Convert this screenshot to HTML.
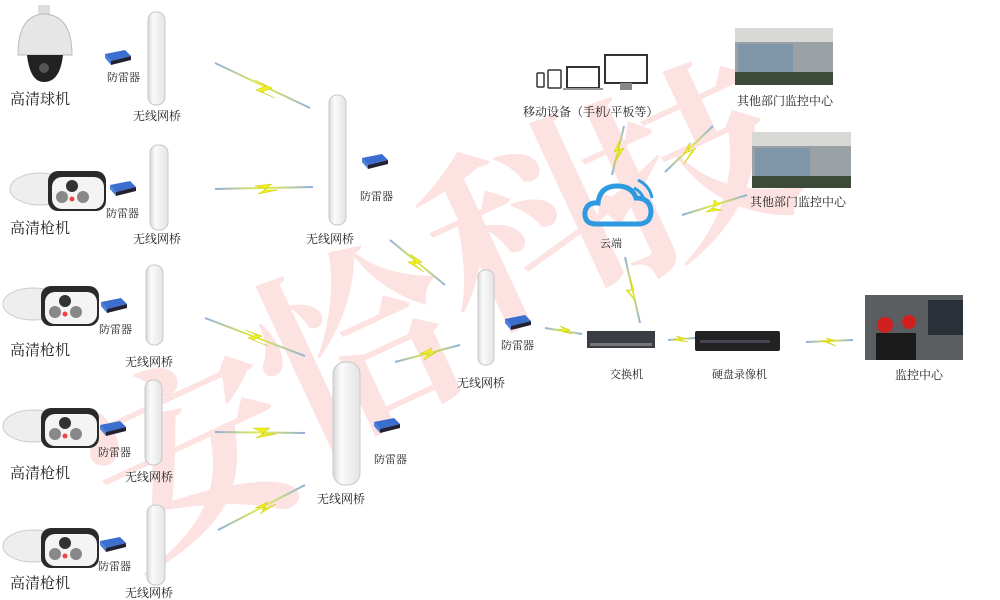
<!DOCTYPE html>
<html><head><meta charset="utf-8"><style>
html,body{margin:0;padding:0;background:#fff}
svg{display:block}
text{font-family:"Liberation Serif","Noto Serif CJK SC",serif;fill:#222}
.s{font-size:11px}.m{font-size:12px}.l{font-size:15px}
text.wm{font-family:"Noto Serif CJK SC","WenQuanYi Zen Hei",serif;font-size:200px;fill:#fde2e2;font-weight:bold}
</style></head><body>
<svg width="1000" height="600" viewBox="0 0 1000 600" xmlns="http://www.w3.org/2000/svg">
<defs>
<linearGradient id="br" x1="0" x2="1"><stop offset="0" stop-color="#d8d8d8"/><stop offset=".3" stop-color="#fafafa"/><stop offset="1" stop-color="#e4e4e4"/></linearGradient>
<linearGradient id="ln" x1="0" x2="1"><stop offset="0" stop-color="#8fb0e0"/><stop offset=".5" stop-color="#e8f040"/><stop offset="1" stop-color="#8fb0e0"/></linearGradient>
<g id="sp"><polygon points="0,4 20,0 26,6 6,11" fill="#3a6fd0"/><polygon points="6,11 26,6 26,10 6,15" fill="#223"/><polygon points="0,4 6,11 6,15 0,8" fill="#4a80d8"/></g>
<g id="bul"><ellipse cx="30" cy="22" rx="30" ry="16" fill="#eee" stroke="#ccc"/><rect x="38" y="4" width="58" height="40" rx="10" fill="#2a2a2a"/><rect x="42" y="10" width="52" height="32" rx="10" fill="#f4f4f4"/><circle cx="62" cy="19" r="6" fill="#333"/><circle cx="52" cy="30" r="6" fill="#888"/><circle cx="73" cy="30" r="6" fill="#888"/><circle cx="62" cy="32" r="2.5" fill="#e44"/></g>
</defs>

<text class="wm" x="80" y="530" transform="rotate(-25 180 430)">安</text>
<text class="wm" x="250" y="420" transform="rotate(-25 350 330)">恰</text>
<text class="wm" x="420" y="300" transform="rotate(-25 520 210)">科</text>
<text class="wm" x="580" y="240" transform="rotate(-25 680 150)">技</text>

<g stroke="url(#ln)" stroke-width="2" fill="none">
<line x1="215" y1="63" x2="310" y2="108"/><line x1="215" y1="189" x2="313" y2="187"/>
<line x1="390" y1="240" x2="445" y2="285"/><line x1="205" y1="318" x2="305" y2="356"/>
<line x1="215" y1="432" x2="305" y2="433"/><line x1="218" y1="530" x2="305" y2="485"/>
<line x1="395" y1="362" x2="460" y2="345"/><line x1="545" y1="328" x2="582" y2="334"/>
<line x1="668" y1="340" x2="695" y2="338"/><line x1="806" y1="342" x2="853" y2="340"/>
<line x1="624" y1="126" x2="612" y2="175"/><line x1="625" y1="257" x2="640" y2="323"/>
<line x1="713" y1="126" x2="665" y2="172"/><line x1="747" y1="195" x2="682" y2="215"/>
</g>
<g fill="#f0f020" stroke="#c8c800" stroke-width=".5">
<polygon points="255,80 272,88 262,92 275,98 256,90 266,86"/>
<polygon points="255,186 272,184 264,190 278,190 258,194 266,189"/>
<polygon points="410,254 422,262 414,264 424,272 408,262 416,261"/>
<polygon points="245,330 262,336 253,340 268,346 248,338 257,335"/>
<polygon points="253,428 270,428 262,434 276,434 256,438 264,433"/>
<polygon points="255,508 268,502 262,510 276,504 260,514 266,507"/>
<polygon points="420,354 432,348 428,356 440,350 424,360 428,353"/>
<polygon points="620,140 614,152 620,150 614,164 624,148 618,150"/>
<polygon points="630,278 634,290 628,290 636,302 626,290 632,290"/>
<polygon points="690,142 684,154 692,150 684,164 696,148 688,152"/>
<polygon points="714,200 720,204 712,208 722,210 706,212 714,207"/>
<polygon points="560,326 570,330 564,332 572,334 558,330 564,329"/>
<polygon points="676,336 684,338 680,340 688,342 674,340 680,338"/>
<polygon points="826,338 834,340 828,342 836,346 822,341 830,341"/>
</g>

<g fill="url(#br)" stroke="#c8c8c8" stroke-width="1">
<rect x="148" y="12" width="17" height="93" rx="8"/>
<rect x="150" y="145" width="18" height="85" rx="8"/>
<rect x="329" y="95" width="17" height="130" rx="8"/>
<rect x="146" y="265" width="17" height="80" rx="8"/>
<rect x="145" y="380" width="17" height="85" rx="8"/>
<rect x="147" y="505" width="18" height="80" rx="8"/>
<rect x="333" y="362" width="27" height="123" rx="12"/>
<rect x="478" y="270" width="16" height="95" rx="7"/>
</g>

<use href="#sp" x="105" y="50"/><use href="#sp" x="110" y="181"/><use href="#sp" x="362" y="154"/>
<use href="#sp" x="101" y="298"/><use href="#sp" x="100" y="421"/><use href="#sp" x="100" y="537"/>
<use href="#sp" x="374" y="418"/><use href="#sp" x="505" y="315"/>

<rect x="38" y="5" width="12" height="10" fill="#ddd"/>
<path d="M18 55 Q18 15 44 14 Q72 15 72 55 Z" fill="#e6e6e6" stroke="#bbb"/>
<path d="M27 55 Q30 82 44 82 Q60 82 63 55 Z" fill="#222"/>
<circle cx="44" cy="68" r="5" fill="#555"/>
<use href="#bul" x="10" y="167"/><use href="#bul" x="3" y="282"/><use href="#bul" x="3" y="404"/><use href="#bul" x="3" y="524"/>

<rect x="537" y="73" width="7" height="14" rx="1" fill="#fff" stroke="#333" stroke-width="1.5"/>
<rect x="548" y="70" width="13" height="18" rx="1" fill="#fff" stroke="#333" stroke-width="1.5"/>
<rect x="567" y="67" width="32" height="21" fill="#fff" stroke="#333" stroke-width="2"/><rect x="563" y="88" width="40" height="2" fill="#999"/>
<rect x="605" y="55" width="42" height="28" fill="#fff" stroke="#333" stroke-width="2"/><rect x="620" y="83" width="12" height="7" fill="#888"/>

<g><rect x="735" y="28" width="98" height="57" fill="#9aa2a8"/><rect x="735" y="28" width="98" height="14" fill="#d8d8d6"/><rect x="738" y="44" width="55" height="28" fill="#7f97a8"/><rect x="735" y="72" width="98" height="13" fill="#3c4a38"/></g>
<g><rect x="752" y="132" width="99" height="56" fill="#9aa2a8"/><rect x="752" y="132" width="99" height="14" fill="#d8d8d6"/><rect x="755" y="148" width="55" height="28" fill="#7f97a8"/><rect x="752" y="176" width="99" height="12" fill="#3c4a38"/></g>
<g><rect x="865" y="295" width="98" height="65" fill="#5a5e60"/><rect x="928" y="300" width="35" height="35" fill="#2a3038"/><circle cx="885" cy="325" r="8" fill="#d02020"/><circle cx="909" cy="322" r="7" fill="#d02020"/><rect x="876" y="333" width="40" height="27" fill="#1a1a1a"/></g>

<path d="M596 224 Q584 224 585 212 Q587 202 598 203 Q600 186 617 186 Q632 186 636 198 Q650 198 651 211 Q651 224 638 224 Z" fill="none" stroke="#2e9be0" stroke-width="5"/>
<path d="M634 188 Q642 192 644 200 M638 180 Q650 186 652 198" stroke="#2e9be0" stroke-width="3" fill="none"/>

<rect x="587" y="331" width="68" height="17" fill="#3a3d44"/><rect x="590" y="343" width="62" height="3" fill="#777"/>
<rect x="695" y="331" width="85" height="20" rx="2" fill="#222"/><rect x="700" y="340" width="70" height="3" fill="#445"/>

<text x="10" y="104" class="l">高清球机</text>
<text x="10" y="233" class="l">高清枪机</text>
<text x="10" y="355" class="l">高清枪机</text>
<text x="10" y="478" class="l">高清枪机</text>
<text x="10" y="588" class="l">高清枪机</text>
<text x="133" y="120" class="m">无线网桥</text>
<text x="133" y="243" class="m">无线网桥</text>
<text x="306" y="243" class="m">无线网桥</text>
<text x="125" y="366" class="m">无线网桥</text>
<text x="125" y="481" class="m">无线网桥</text>
<text x="125" y="597" class="m">无线网桥</text>
<text x="317" y="503" class="m">无线网桥</text>
<text x="457" y="387" class="m">无线网桥</text>
<text x="107" y="81" class="s">防雷器</text>
<text x="106" y="217" class="s">防雷器</text>
<text x="360" y="200" class="s">防雷器</text>
<text x="99" y="333" class="s">防雷器</text>
<text x="98" y="456" class="s">防雷器</text>
<text x="98" y="570" class="s">防雷器</text>
<text x="374" y="463" class="s">防雷器</text>
<text x="501" y="349" class="s">防雷器</text>
<text x="523" y="116" class="m">移动设备（手机/平板等）</text>
<text x="737" y="105" class="m">其他部门监控中心</text>
<text x="750" y="206" class="m">其他部门监控中心</text>
<text x="600" y="247" class="s">云端</text>
<text x="610" y="378" class="s">交换机</text>
<text x="712" y="378" class="s">硬盘录像机</text>
<text x="895" y="379" class="m">监控中心</text>
</svg>
</body></html>
